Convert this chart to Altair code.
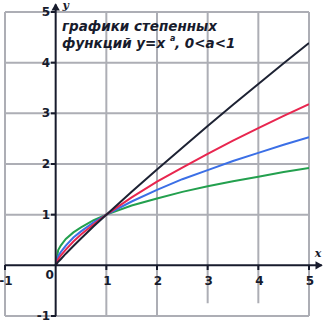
import altair as alt
import pandas as pd

# ---- data ----
xs = [0, 0.05, 0.1, 0.2, 0.35, 0.5, 0.75, 1, 1.5, 2, 2.5, 3, 3.5, 4, 4.5, 5]
y_black = [0, 0.07, 0.12, 0.23, 0.38, 0.53, 0.77, 1, 1.45, 1.89, 2.32, 2.75, 3.17, 3.58, 3.99, 4.39]
y_red = [0, 0.12, 0.19, 0.31, 0.47, 0.61, 0.81, 1, 1.34, 1.65, 1.93, 2.20, 2.46, 2.71, 2.95, 3.18]
y_blue = [0, 0.18, 0.26, 0.39, 0.55, 0.67, 0.85, 1, 1.26, 1.49, 1.70, 1.88, 2.06, 2.22, 2.38, 2.53]
y_green = [0, 0.30, 0.39, 0.52, 0.65, 0.75, 0.89, 1, 1.18, 1.32, 1.45, 1.56, 1.66, 1.75, 1.84, 1.92]
series_names = ["green", "blue", "red", "black"]
series_colors = ["#23a04e", "#3b6fe6", "#e8264f", "#1d2233"]

x_ticks = [-1, 1, 2, 3, 4, 5]
x_tick_labels = ["-1", "1", "2", "3", "4", "5"]
y_ticks = [-1, 1, 2, 3, 4, 5]
y_tick_labels = ["-1", "1", "2", "3", "4", "5"]
grid_x = [-1, 1, 2, 3, 4, 5]
grid_x_bottom = [-1, -1, -1, -0.75, -0.75, -1]
grid_y = [-1, 1, 2, 3, 4, 5]

title_line1 = "графики степенных"
title_line2a = "функций y=x"
title_sup = "a"
title_line2b = " , 0<a<1"

# ---- tables ----
rows = []
for name, ys in zip(series_names, [y_green, y_blue, y_red, y_black]):
    for i, (x, y) in enumerate(zip(xs, ys)):
        rows.append({"series": name, "x": x, "y": y, "i": i})
curves = pd.DataFrame(rows)

XS = alt.Scale(domain=[-1, 5], nice=False, zero=False)
YS = alt.Scale(domain=[-1, 5], nice=False, zero=False)
GRID = "#adaeb5"
AX = "#171b2c"

vgrid = pd.DataFrame({"x": grid_x, "y1": grid_x_bottom, "y2": [5] * len(grid_x)})
hgrid = pd.DataFrame({"y": grid_y, "x1": [-1] * len(grid_y), "x2": [5] * len(grid_y)})

vg = alt.Chart(vgrid).mark_rule(color=GRID, strokeWidth=2).encode(
    x=alt.X("x:Q", scale=XS, axis=None), y=alt.Y("y1:Q", scale=YS, axis=None), y2="y2:Q")
hg = alt.Chart(hgrid).mark_rule(color=GRID, strokeWidth=2).encode(
    y=alt.Y("y:Q", scale=YS, axis=None), x=alt.X("x1:Q", scale=XS, axis=None), x2="x2:Q")

axes_df = pd.DataFrame({"x1": [-1, 0], "x2": [5.25, 0], "y1": [0, -1], "y2": [0, 5.15]})
axlines = alt.Chart(axes_df).mark_rule(color=AX, strokeWidth=2, clip=False).encode(
    x=alt.X("x1:Q", scale=XS, axis=None), x2="x2:Q",
    y=alt.Y("y1:Q", scale=YS, axis=None), y2="y2:Q")

arrow_df = pd.DataFrame({"x": [5.2, 0], "y": [0, 5.1], "shape": ["triangle-right", "triangle-up"]})
arrows = alt.Chart(arrow_df).mark_point(filled=True, color=AX, size=70, opacity=1, clip=False).encode(
    x=alt.X("x:Q", scale=XS, axis=None), y=alt.Y("y:Q", scale=YS, axis=None),
    shape=alt.Shape("shape:N", scale=None, legend=None))

yt_df = pd.DataFrame({"y": y_ticks, "label": y_tick_labels})
ytick = alt.Chart(yt_df).mark_rule(color=AX, strokeWidth=2).encode(
    x=alt.value(46), x2=alt.value(51), y=alt.Y("y:Q", scale=YS, axis=None))
ylab = alt.Chart(yt_df).mark_text(align="right", baseline="middle", font="DejaVu Sans",
                                  fontWeight="bold", fontSize=12, color=AX, dx=-1).encode(
    x=alt.value(46), y=alt.Y("y:Q", scale=YS, axis=None), text="label:N")

xt_df = pd.DataFrame({"x": x_ticks, "label": x_tick_labels})
xtick = alt.Chart(xt_df).mark_rule(color=AX, strokeWidth=2).encode(
    x=alt.X("x:Q", scale=XS, axis=None), y=alt.value(253), y2=alt.value(258))
xlab = alt.Chart(xt_df).mark_text(align="center", baseline="middle", font="DejaVu Sans",
                                  fontWeight="bold", fontSize=12, color=AX, clip=False, dx=1).encode(
    x=alt.X("x:Q", scale=XS, axis=None), y=alt.value(269), text="label:N")

misc_df = pd.DataFrame({
    "x": [-0.12, 5.18, 0.2],
    "y": [-0.2, 0.22, 5.12],
    "label": ["0", "x", "y"],
})
zero_lab = alt.Chart(misc_df.iloc[[0]]).mark_text(align="center", baseline="middle", font="DejaVu Sans",
                                                  fontWeight="bold", fontSize=12, color=AX, clip=False).encode(
    x=alt.X("x:Q", scale=XS, axis=None), y=alt.Y("y:Q", scale=YS, axis=None), text="label:N")
xy_lab = alt.Chart(misc_df.iloc[[1, 2]]).mark_text(align="center", baseline="middle", font="DejaVu Serif",
                                                   fontStyle="italic", fontWeight="bold", fontSize=11,
                                                   color=AX, clip=False).encode(
    x=alt.X("x:Q", scale=XS, axis=None), y=alt.Y("y:Q", scale=YS, axis=None), text="label:N")

lines = alt.Chart(curves).mark_line(strokeWidth=2, clip=True).encode(
    x=alt.X("x:Q", scale=XS, axis=None),
    y=alt.Y("y:Q", scale=YS, axis=None),
    color=alt.Color("series:N", scale=alt.Scale(domain=series_names, range=series_colors), legend=None),
    order="i:Q",
)

title_df = pd.DataFrame({
    "label": [title_line1, title_line2a, title_line2b],
    "px": [57, 57, 170],
    "py": [15, 32, 32],
})
title_txt = alt.Chart(title_df).mark_text(align="left", baseline="middle", font="DejaVu Sans",
                                          fontStyle="italic", fontWeight="bold", fontSize=13.5,
                                          color=AX).encode(
    x=alt.X("px:Q", scale=None, axis=None), y=alt.Y("py:Q", scale=None, axis=None), text="label:N")
sup_df = pd.DataFrame({"label": [title_sup], "px": [165], "py": [27]})
sup_txt = alt.Chart(sup_df).mark_text(align="left", baseline="middle", font="DejaVu Sans",
                                      fontStyle="italic", fontWeight="bold", fontSize=8,
                                      color=AX).encode(
    x=alt.X("px:Q", scale=None, axis=None), y=alt.Y("py:Q", scale=None, axis=None), text="label:N")

chart = alt.layer(
    vg, hg, lines, axlines, arrows, ytick, ylab, xtick, xlab, zero_lab, xy_lab, title_txt, sup_txt
).resolve_scale(x="shared", y="shared").properties(
    width=304, height=304,
    padding={"left": 5, "top": 12, "right": 15, "bottom": 8},
    autosize=alt.AutoSizeParams(type="none"),
    background="white",
).configure_view(stroke=None)

chart.save("out.html", embed_options={"renderer": "svg", "actions": False})
